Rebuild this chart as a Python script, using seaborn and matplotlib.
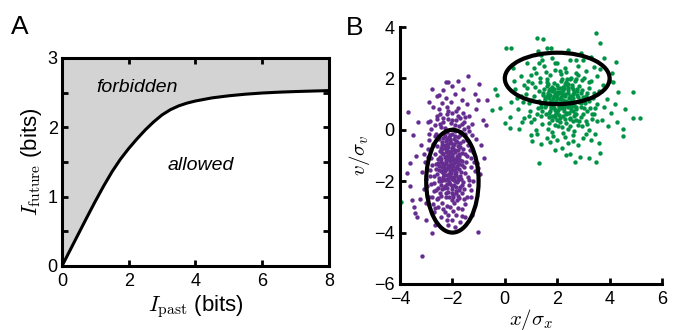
import matplotlib
matplotlib.use("Agg")
import numpy as np
import pandas as pd
import seaborn as sns
from matplotlib import pyplot as plt
from matplotlib.patches import Ellipse

# panel A: the bound curve
past_bits = [0, 0.25, 0.5, 0.75, 1.0, 1.25, 1.5, 1.75, 2.0, 2.25, 2.5, 2.75, 3.0, 3.25,
             3.5, 3.75, 4.0, 4.5, 5.0, 5.5, 6.0, 6.5, 7.0, 7.5, 8.0]
future_bits = [0, 0.235, 0.47, 0.705, 0.935, 1.155, 1.36, 1.54, 1.695, 1.835, 1.965, 2.08, 2.18,
               2.255, 2.31, 2.35, 2.38, 2.425, 2.455, 2.478, 2.495, 2.507, 2.516, 2.523, 2.53]

# panel B: samples (x, v) of the two clusters
purple_pts = [
    (-2.1, -1.2), (-1.9, -0.8), (-2.3, -1.5), (-2.0, -1.9), (-1.8, -1.1), (-2.4, -0.9), (-2.2, -2.1), (-1.7, -0.5),
    (-2.05, -1.45), (-2.35, -1.85), (-1.95, -0.35), (-2.15, -0.65), (-2.45, -1.25), (-1.85, -1.65), (-2.25, -0.45),
    (-1.75, -1.35), (-2.5, -2.0), (-2.0, -2.3), (-1.65, -0.9), (-2.3, -1.05), (-2.12, -1.72), (-1.92, -1.28),
    (-2.28, -0.72), (-2.02, -0.98), (-1.82, -2.05), (-2.42, -1.62), (-2.18, -1.38), (-1.72, -1.78), (-2.38, -0.58),
    (-1.98, -0.62), (-2.08, -2.12), (-2.52, -1.42), (-1.88, -0.42), (-2.22, -1.92), (-1.78, -0.78), (-2.32, -2.28),
    (-2.02, -1.58), (-1.62, -1.22), (-2.48, -0.82), (-2.14, -0.28), (-1.94, -1.84), (-2.26, -1.18), (-1.84, -1.02),
    (-2.36, -1.68), (-2.06, -0.52), (-1.76, -1.52), (-2.56, -1.12), (-2.16, -2.42), (-1.86, -2.22), (-2.44, -2.16),
    (-2.0, -0.15), (-2.2, -0.1), (-1.9, -0.05), (-2.3, -0.25), (-1.7, -0.2), (-2.4, -1.45), (-2.1, -1.62),
    (-1.95, -1.12), (-2.25, -1.52), (-2.05, -0.82), (-1.68, -1.92), (-2.58, -1.72), (-1.8, -0.62), (-2.34, -0.95),
    (-2.12, -0.88), (-1.96, -2.52), (-2.24, -2.62), (-1.74, -2.35), (-2.46, -2.45), (-2.03, -2.75), (-1.88, -1.5),
    (-2.18, -1.02), (-2.28, -1.35), (-1.98, -1.4), (-2.08, -1.78), (-2.38, -1.95), (-1.78, -1.88), (-1.9, -2.0),
    (-2.2, -0.78), (-2.0, -0.7),
    (-2.07, -1.33), (-1.93, -0.57), (-2.27, -1.61), (-2.13, -2.03), (-1.73, -1.03), (-2.47, -1.07), (-2.21, -0.37),
    (-1.61, -0.73), (-1.99, -1.17), (-2.33, -0.13), (-1.87, -2.37), (-2.41, -0.47), (-2.17, -1.49), (-1.79, -0.27),
    (-2.53, -1.87), (-2.01, -0.93), (-1.69, -1.63), (-2.29, -2.17), (-1.91, -1.73), (-2.39, -1.29), (-2.11, -0.19),
    (-1.83, -1.39), (-2.59, -0.63), (-1.97, -2.63), (-2.23, -0.87), (-1.63, -2.13), (-2.43, -2.57), (-2.09, -1.07),
    (-1.77, -2.57), (-2.31, -1.77), (-1.89, -0.87), (-2.19, -2.27), (-2.61, -2.33), (-1.67, -0.07), (-2.37, -0.33),
    (-2.03, -2.19), (-1.81, -0.47), (-2.51, -0.37), (-2.15, -1.93), (-1.71, -1.17), (-2.27, 0.07), (-1.97, 0.03),
    (-2.07, 0.27), (-1.87, 0.37), (-2.35, 0.47), (-1.57, 0.03), (-2.17, 0.43), (-1.77, 0.53), (-2.49, 0.23),
    (-2.63, -1.53), (-1.57, -1.43), (-2.67, -0.93), (-1.53, -0.17), (-2.69, -2.07), (-1.59, -2.03), (-2.43, -2.01),
    (-1.95, -1.55), (-2.25, -1.27), (-2.05, -1.67), (-1.85, -1.15), (-2.15, -0.97), (-2.35, -1.41), (-1.75, -0.93),
    (-2.45, -0.71), (-1.65, -1.37), (-2.55, -1.31), (-2.0, -1.05), (-2.2, -1.75), (-1.9, -0.25), (-2.1, -0.45),
    (-2.3, -0.61), (-1.8, -1.95), (-2.4, -2.29), (-2.0, -2.45), (-1.7, -2.23), (-2.25, -2.47), (-1.94, -2.13),
    (-2.14, -2.61), (-2.54, -2.65), (-1.84, -2.75), (-2.62, -0.15), (-1.64, 0.23), (-2.74, -0.55), (-1.46, -0.41),
    (-2.76, -1.37), (-1.44, -1.03), (-2.78, -2.63), (-1.42, -1.83), (-2.86, -1.79), (-1.34, -0.77), (-2.66, -3.03),
    (-1.56, -2.71), (-2.46, 0.62), (-1.86, 0.72), (-2.22, 0.88), (-2.02, 0.66), (-2.58, 0.42), (-1.52, 0.49),
    (-2.84, 0.35), (-1.26, 0.21), (-2.36, -3.07), (-1.96, -3.17), (-2.16, -3.33), (-1.78, -3.03), (-2.98, -2.17),
    (-1.18, -1.25), (-3.08, -0.95), (-1.28, -2.35), (-2.88, -0.15), (-1.36, -0.03), (-3.02, -2.85), (-1.62, -3.35),
    (-2.12, -1.15), (-1.98, -0.75), (-2.24, -1.05), (-2.06, -1.85), (-1.86, -1.75), (-2.32, -1.55), (-2.18, -0.55),
    (-1.92, -1.95), (-2.42, -1.15), (-1.72, -0.65), (-2.28, -1.95), (-2.08, -0.35), (-1.82, -1.25), (-2.52, -1.55),
    (-1.88, -2.45), (-2.38, -0.75),
    (-2.8, -1.1), (-1.4, -0.6), (-2.7, -2.4), (-1.5, -1.7), (-2.9, -0.4), (-1.3, -1.1), (-2.65, 0.2), (-1.55, 0.3),
    (-3.0, -1.9), (-1.25, -0.2), (-2.75, -2.9), (-1.45, -2.6), (-2.85, -1.55), (-1.35, -1.95), (-2.6, 0.55),
    (-1.6, 0.65), (-3.1, -2.3), (-1.2, -0.85), (-2.7, -3.2), (-1.5, -2.9), (-2.95, -0.75), (-1.4, 0.1),
    (-2.55, -3.0), (-1.65, -3.1), (-2.8, 0.05), (-1.3, -1.45), (-3.05, -1.25), (-1.15, -1.6), (-2.6, -2.7),
    (-1.7, 0.45), (-2.9, -2.6), (-1.55, -2.3), (-2.5, 0.8), (-1.8, 0.85), (-2.2, 0.6), (-2.0, 0.4), (-2.35, 0.3),
    (-1.9, 0.2), (-2.15, 0.75), (-1.75, 0.15), (-2.45, 0.1), (-2.65, -0.25), (-1.58, -0.45), (-2.72, -1.8),
    (-1.48, -1.25), (-2.82, -2.1), (-1.38, -2.15), (-2.62, -1.35), (-1.52, -0.95), (-2.92, -1.05), (-2.1, -3.0),
    (-1.85, -3.3), (-2.3, -3.2), (-2.0, -3.5), (-1.95, -2.85), (-2.4, -2.85), (-1.75, -2.65), (-2.2, -2.95),
    (-2.55, -2.25), (-1.65, -2.45), (-3.2, -0.6), (-1.1, -0.35), (-3.15, -1.65), (-1.05, -1.3), (-2.95, 0.3),
    (-1.35, 0.55), (-3.25, -2.7), (-1.2, -2.0), (-2.75, 0.9), (-1.45, 1.0), (-2.05, 1.1), (-2.4, 1.05),
    (-1.65, 1.15), (-2.6, 1.3), (-1.9, 1.4), (-2.25, 1.25), (-1.7, -3.6), (-2.45, -3.4), (-2.15, -3.7), (-1.9, -3.8),
    (-1.4, 2.1), (-2.25, 1.85), (-2.15, 1.85), (-1.0, 1.8), (-2.78, 1.6), (-2.52, 1.35), (-0.69, 1.15),
    (-3.68, 0.7), (-1.03, 1.16), (-0.73, 0.19), (-1.01, -1.5), (-0.95, -1.72), (-3.75, -1.7), (-3.62, -2.2),
    (-1.04, -3.97), (-3.15, -4.91), (-2.79, -4.03), (-2.22, -3.51), (-3.55, -2.73), (-3.43, -3.25), (-3.34, -3.38),
    (-3.5, -0.2), (-3.4, -1.0), (-3.3, 0.3), (-0.9, -0.6), (-0.85, 0.4), (-1.1, 0.8), (-3.6, -1.3), (-0.8, -1.1),
    (-3.45, -3.0), (-1.25, -3.3), (-1.5, -3.4), (-2.65, -3.7), (-1.3, -2.6), (-3.0, -3.5), (-1.6, 1.6),
    (-2.9, 1.1), (-1.15, 1.4), (-2.0, 1.7), (-1.8, 1.9), (-2.35, 1.55),
]
green_pts = [
    (2.1, 1.2), (1.8, 1.5), (2.4, 0.9), (2.0, 0.7), (2.6, 1.4), (1.5, 1.1), (2.3, 1.8), (1.9, 0.5), (2.7, 0.8),
    (1.6, 1.7), (2.2, 1.45), (2.05, 0.95), (2.45, 1.25), (1.75, 0.85), (2.55, 1.65), (1.85, 1.25), (2.35, 0.6),
    (1.65, 1.45), (2.85, 1.1), (2.15, 1.9), (1.95, 1.05), (2.25, 0.75), (2.5, 1.05), (1.7, 0.65), (2.75, 1.5),
    (1.55, 0.9), (2.4, 1.55), (2.0, 1.35), (2.65, 0.55), (1.45, 1.35), (2.12, 0.45), (1.88, 1.82), (2.38, 1.98),
    (2.62, 1.22), (1.42, 0.72), (2.92, 0.88), (1.62, 1.98), (2.18, 1.08), (2.48, 0.42), (1.78, 1.12), (2.02, 1.62),
    (2.28, 1.32), (1.68, 0.48), (2.82, 1.72), (1.32, 1.52), (2.58, 0.98), (2.08, 0.58), (1.92, 0.78), (2.42, 1.78),
    (2.72, 0.62), (1.52, 1.22), (2.22, 1.68), (1.82, 0.38), (2.98, 1.28), (1.38, 1.02), (2.32, 1.12), (1.72, 1.58),
    (2.68, 1.88), (2.52, 0.78), (1.98, 1.48), (2.15, 0.85), (1.6, 1.3), (2.9, 0.5), (2.3, 1.4), (1.85, 0.95),
    (2.55, 1.15), (2.0, 1.75), (1.25, 0.85), (2.75, 1.35), (2.45, 0.65), (2.1, 0.3), (2.35, 0.25), (1.9, 0.2),
    (2.6, 0.35), (2.8, 0.2), (1.7, 0.25), (2.2, 0.1), (2.5, 0.15), (3.0, 0.6), (1.4, 0.55),
    (2.13, 1.27), (1.87, 1.57), (2.43, 0.97), (2.03, 0.77), (2.63, 1.47), (1.53, 1.17), (2.33, 1.87), (1.93, 0.57),
    (2.73, 0.87), (1.63, 1.77), (2.23, 1.53), (2.07, 1.03), (2.47, 1.33), (1.77, 0.93), (2.57, 1.73), (1.87, 1.33),
    (2.37, 0.67), (1.67, 1.53), (2.87, 1.17), (2.17, 1.97), (1.97, 1.13), (2.27, 0.83), (2.53, 1.13), (1.73, 0.73),
    (2.77, 1.57), (1.57, 0.97), (2.43, 1.63), (2.03, 1.43), (2.67, 0.63), (1.47, 1.43), (1.13, 1.33), (1.23, 0.63),
    (1.03, 1.83), (1.33, 2.03), (3.13, 0.73), (3.23, 1.63), (3.03, 2.03), (3.33, 0.43), (1.43, 0.23), (2.93, 0.13),
    (2.23, -0.13), (1.83, -0.23), (2.63, -0.03), (2.43, 0.03), (2.03, 0.13), (1.63, 0.03), (2.83, 0.33), (3.43, 0.83),
    (0.93, 1.03), (0.83, 1.63), (1.73, 2.13), (2.13, 2.17), (2.53, 2.03), (1.93, 2.33), (2.33, 2.23), (2.73, 1.97),
    (2.93, 1.53), (3.23, 1.13), (3.13, 0.23), (1.13, 0.43), (2.17, 1.37), (1.83, 1.07), (2.37, 1.07), (2.07, 0.87),
    (2.57, 1.27), (1.67, 1.23), (2.27, 1.63), (1.97, 0.67), (2.63, 0.93), (1.73, 1.37), (2.21, 0.53), (2.47, 0.47),
    (1.99, 0.37), (2.71, 0.37), (1.59, 0.61), (2.91, 1.03), (1.39, 0.87), (3.01, 0.83), (1.29, 1.13), (3.11, 1.33),
    (2.41, 1.43), (2.11, 1.63), (1.81, 1.67), (2.61, 1.57), (2.31, 0.97), (1.91, 1.43), (2.51, 0.87), (2.21, 1.17),
    (2.01, 1.23), (2.79, 1.27), (1.49, 1.57), (2.89, 1.43), (1.61, 1.87), (2.39, 1.73), (2.69, 1.07), (1.79, 0.53),
    (2.19, 0.97), (1.89, 0.83), (2.59, 0.73), (2.29, 0.43), (1.69, 1.03), (2.09, 1.47), (2.49, 1.97), (1.59, 2.23),
    (2.81, 2.13), (3.21, 1.87), (3.41, 1.43), (3.31, 0.63), (3.51, 0.33), (0.73, 1.73), (0.63, 1.33), (1.01, 2.13),
    (0.91, 0.53), (1.21, -0.17), (2.61, -0.43), (3.11, -0.17), (1.71, -0.47), (2.31, -0.27), (1.91, 2.61),
    (2.71, 2.73), (1.41, 2.73), (3.41, 2.43),
    (0.8, 1.4), (3.5, 1.0), (1.0, 0.3), (3.3, 1.9), (0.6, 2.1), (3.7, 0.4), (1.1, 2.4), (3.2, 0.0), (0.5, 0.8),
    (3.6, 1.5), (0.9, 1.9), (3.4, 0.6), (1.2, 0.0), (3.1, 2.3), (0.7, 1.1), (3.8, 0.9), (1.3, 2.6), (3.0, -0.3),
    (0.4, 1.6), (3.5, 2.1), (1.0, -0.2), (2.0, -0.4), (2.4, -0.5), (1.6, -0.3), (2.8, -0.6), (1.8, -0.1),
    (2.6, -0.2), (2.2, -0.7), (3.3, -0.4), (1.4, -0.55), (1.5, 2.5), (2.0, 2.6), (2.5, 2.7), (1.8, 2.8), (2.3, 2.4),
    (2.8, 2.5), (1.2, 2.2), (3.0, 2.7), (2.1, 2.3), (2.7, 2.2), (0.3, 2.4), (0.45, 1.25), (0.75, 0.45),
    (0.55, 0.05), (3.9, 1.2), (3.75, 1.75), (3.95, 0.15), (4.05, 0.65), (3.45, -0.15), (3.65, 2.35), (1.15, 1.65),
    (1.05, 1.15), (0.95, 0.75), (1.35, 1.85), (3.15, 1.45), (3.25, 0.85), (3.05, 1.05), (3.35, 1.25), (2.95, 1.95),
    (3.1, 0.35), (0.85, 2.6), (1.4, 2.9), (2.9, 3.0), (3.3, 2.85), (0.65, 0.3), (1.05, -0.45), (2.5, -0.95),
    (1.9, -0.8), (3.6, -0.5), (4.0, 1.9), (0.35, 1.9), (0.25, 1.1), (4.2, 1.0), (4.3, 0.3), (4.1, 2.2), (0.2, 0.5),
    (1.25, 3.05), (2.4, 3.1), (1.75, 3.2), (3.8, 2.8),
    (1.22, 3.58), (1.47, 3.52), (1.6, 3.17), (3.48, 3.75), (3.63, 3.37), (0.03, 3.2), (0.22, 3.2), (-0.37, 1.58),
    (-0.31, 1.35), (4.24, 2.65), (4.31, 1.48), (4.14, 1.87), (4.91, 1.48), (5.16, 0.45), (4.9, 0.45), (4.59, 0.8),
    (4.52, 0.02), (4.52, -0.24), (1.32, -1.3), (2.34, -0.98), (2.68, -1.24), (2.87, -1.05), (3.23, -1.08),
    (3.48, -1.24), (3.63, -0.92), (0.01, 0.25), (0.2, 0.06), (-0.18, 0.84), (-0.5, 0.76), (-3.97, -2.81),
]

# covariance ellipses: centre x, centre v, full width, full height
ell_x = [-2, 2]
ell_v = [-2, 2]
ell_w = [2, 4]
ell_h = [4, 2]

purple = "#662d91"
green = "#009245"

sns.set_style("ticks")
plt.rcParams['font.family'] = ['Liberation Sans', 'DejaVu Sans']
plt.rcParams['mathtext.fontset'] = 'cm'
plt.rcParams['axes.linewidth'] = 2.2
plt.rcParams['axes.edgecolor'] = 'black'
plt.rcParams['axes.axisbelow'] = False
plt.rcParams['xtick.direction'] = 'in'
plt.rcParams['ytick.direction'] = 'in'
plt.rcParams['xtick.color'] = 'black'
plt.rcParams['ytick.color'] = 'black'
plt.rcParams['text.color'] = 'black'
plt.rcParams['axes.labelcolor'] = 'black'

fig = plt.figure(figsize=(6.82, 3.31), dpi=100)

# ---- panel A
ax1 = fig.add_axes([0.0909, 0.1964, 0.3915, 0.6284])
ax1.fill_between(past_bits, future_bits, 3, color="#d3d3d3", lw=0, zorder=0.5)
sns.lineplot(x=past_bits, y=future_bits, ax=ax1, color="black", lw=2.2)
ax1.set_xlim(0, 8)
ax1.set_ylim(0, 3)
ax1.set_xticks([0, 2, 4, 6, 8])
ax1.set_yticks([0, 1, 2, 3])
ax1.set_yticks([0.5, 1.5, 2.5], minor=True)
ax1.tick_params(which='both', top=True, right=True, width=2, length=4, labelsize=13)
ax1.tick_params(axis='x', pad=5)
ax1.tick_params(axis='y', pad=3)
for s in ax1.spines.values():
    s.set_visible(True)
ax1.text(2.25, 2.58, "forbidden", style="italic", fontsize=14, ha="center", va="center")
ax1.text(4.15, 1.45, "allowed", style="italic", fontsize=14, ha="center", va="center")
ax1.set_xlabel(r"$I_{\rm past}$ (bits)", fontsize=16, labelpad=2)
ax1.set_ylabel(r"$I_{\rm future}$ (bits)", fontsize=16, labelpad=3)
fig.text(0.016, 0.897, "A", fontsize=19)

# ---- panel B
ax2 = fig.add_axes([0.5865, 0.142, 0.3842, 0.7764])
pdf = pd.DataFrame(purple_pts, columns=["x", "v"])
gdf = pd.DataFrame(green_pts, columns=["x", "v"])
sns.scatterplot(data=gdf, x="x", y="v", ax=ax2, color=green, s=10, linewidth=0)
sns.scatterplot(data=pdf, x="x", y="v", ax=ax2, color=purple, s=10, linewidth=0)
for cx, cv, w, h in zip(ell_x, ell_v, ell_w, ell_h):
    ax2.add_patch(Ellipse((cx, cv), w, h, fill=False, ec="black", lw=3, zorder=3))
ax2.set_xlim(-4, 6)
ax2.set_ylim(-6, 4)
ax2.set_xticks([-4, -2, 0, 2, 4, 6])
ax2.set_yticks([-6, -4, -2, 0, 2, 4])
ax2.tick_params(width=2, length=4, labelsize=13)
ax2.tick_params(axis='x', pad=5)
ax2.tick_params(axis='y', pad=4)
sns.despine(ax=ax2)
ax2.set_xlabel(r"$x/\sigma_x$", fontsize=15, labelpad=-1)
ax2.set_ylabel(r"$v/\sigma_v$", fontsize=15, labelpad=1)
fig.text(0.507, 0.894, "B", fontsize=19)

fig.savefig("out.png", dpi=100)
